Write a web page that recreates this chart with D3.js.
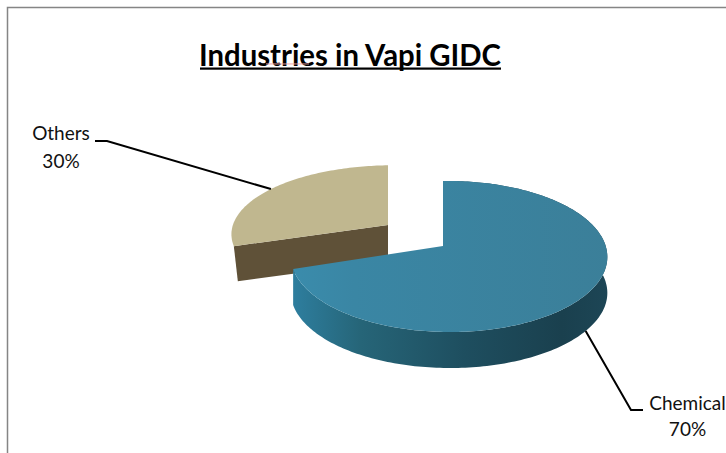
<!DOCTYPE html>
<html>
<head>
<meta charset="utf-8">
<script src="https://cdn.jsdelivr.net/npm/d3@7"></script>
<style>
  html, body { margin: 0; padding: 0; background: #fff; overflow: hidden; }
  svg { display: block; }
  text { font-family: Lato, "Open Sans", sans-serif; fill: #111; }
</style>
</head>
<body>
<svg id="chart" width="726" height="453"></svg>
<script>
const categories = ["Chemical", "Others"];
const shares = [70, 30];
const percentLabels = ["70%", "30%"];
const chartTitle = "Industries in Vapi GIDC";

const svg = d3.select("#chart");
const defs = svg.append("defs");

// Tilted-disc projection shared by both slices; each slice has its own hub and radii.
const tilt = 0.139, skew = 0.038, depth = 36;
const sliceGeometry = [
  { hubX: 443, hubY: 246, rx: 156.5, ry: 74 },
  { hubX: 388, hubY: 225, rx: 161, ry: 68 }
];

function project(g, angle) {
  const x = Math.sin(angle), y = -Math.cos(angle);
  const w = 1 - tilt * y - skew * x;
  return [g.hubX + g.rx * x / w, g.hubY + g.ry * y / w];
}

function gradient(id, stops) {
  const g = defs.append("linearGradient").attr("id", id)
    .attr("gradientUnits", "userSpaceOnUse")
    .attr("x1", 290).attr("x2", 610).attr("y1", 0).attr("y2", 0);
  stops.forEach(([o, c]) => g.append("stop").attr("offset", o).attr("stop-color", c));
}
gradient("chemTop", [[0, "#3a8cac"], [0.2, "#3a86a4"], [1, "#3b7f99"]]);
gradient("chemSide", [[0, "#2e7fa0"], [0.22, "#266578"], [0.55, "#1e4e5f"], [0.85, "#1a404e"], [1, "#1d4656"]]);

const arcs = d3.pie().sort(null)(shares);
const line = d3.line();
const down = p => [p[0], p[1] + depth];

function rimPoints(g, a0, a1) {
  const n = Math.ceil(Math.abs(a1 - a0) / 0.02);
  return d3.range(n + 1).map(i => project(g, a0 + (a1 - a0) * i / n));
}

// Others, pulled out of the disc: only its cut face shows below the top.
{
  const g = sliceGeometry[1], a = arcs[1];
  const rim = rimPoints(g, a.startAngle, a.endAngle);
  const hub = [g.hubX, g.hubY];
  const layer = svg.append("g").attr("class", "slice");
  const corner = down(rim[0]);
  layer.append("path")
    .attr("d", line([hub, down(hub), [corner[0] + 4, corner[1] - 1], rim[0]]) + "Z")
    .attr("fill", "#5f5138");
  layer.append("path")
    .attr("d", line([hub].concat(rim)) + "Z")
    .attr("fill", "#c0b78f");
}

// Chemical, drawn over it: outer wall, then the top face.
{
  const g = sliceGeometry[0], a = arcs[0];
  const rim = rimPoints(g, a.startAngle, a.endAngle);
  const layer = svg.append("g").attr("class", "slice");
  layer.append("path")
    .attr("d", line(rim.concat(rim.map(down).reverse())) + "Z")
    .attr("fill", "url(#chemSide)");
  layer.append("path")
    .attr("d", line([[g.hubX, g.hubY]].concat(rim)) + "Z")
    .attr("fill", "url(#chemTop)");
}

// Chart frame
svg.append("path")
  .attr("d", d3.line()([[7.5, 453], [7.5, 7.5], [726, 7.5]]))
  .attr("fill", "none").attr("stroke", "#858585").attr("stroke-width", 1.5);

// Title with its underline and the spell-check mark below "Vapi"
svg.append("text")
  .attr("x", 350).attr("y", 66)
  .attr("text-anchor", "middle")
  .attr("font-size", 30).attr("font-weight", 700)
  .attr("textLength", 302).attr("lengthAdjust", "spacingAndGlyphs")
  .style("fill", "#000")
  .text(chartTitle);
svg.append("rect").attr("x", 200).attr("y", 67.5).attr("width", 301).attr("height", 2.2).attr("fill", "#000");
svg.append("rect").attr("x", 266).attr("y", 63.5).attr("width", 43).attr("height", 0.9).attr("fill", "#f0a0a0");

// Leader lines run from each slice's mid-angle out to its label
const leaderStyle = s => s.attr("fill", "none").attr("stroke", "#000").attr("stroke-width", 2);
const labelLayout = [
  { x: 687.5, nameY: 404, pctY: 430, size: 19, elbow: [631, 410], tail: [643, 410], drop: depth },
  { x: 61, nameY: 134, pctY: 162, size: 19, elbow: [107, 141], tail: [95, 141], drop: 0 }
];
arcs.forEach((a, i) => {
  const l = labelLayout[i];
  const mid = project(sliceGeometry[i], (a.startAngle + a.endAngle) / 2);
  svg.append("path")
    .attr("d", line([[mid[0], mid[1] + l.drop], l.elbow, l.tail]))
    .call(leaderStyle);
  svg.append("text").attr("x", l.x).attr("y", l.nameY).attr("dy", "0.33em")
    .attr("text-anchor", "middle").attr("font-size", l.size).text(categories[i]);
  svg.append("text").attr("x", l.x).attr("y", l.pctY).attr("dy", "0.33em")
    .attr("text-anchor", "middle").attr("font-size", l.size).text(percentLabels[i]);
});
</script>
</body>
</html>
